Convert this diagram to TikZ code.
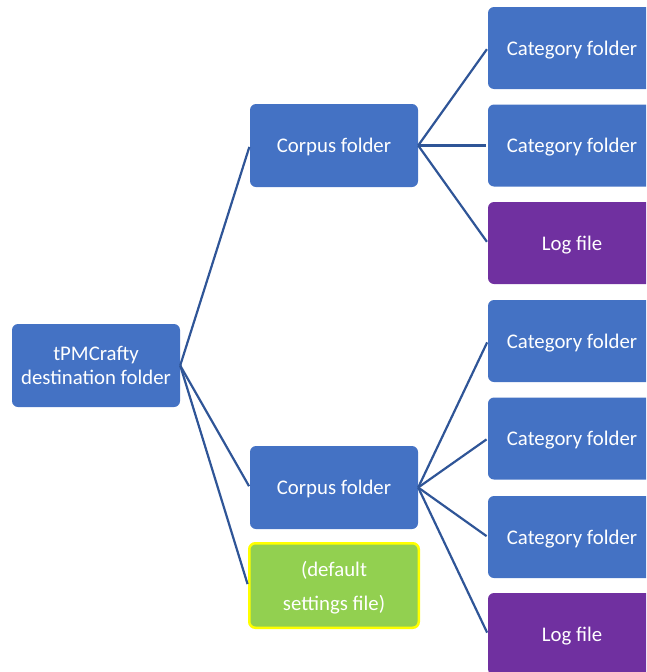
\documentclass[tikz,border=0pt]{standalone}
\usepackage{fontspec}
\setmainfont{Carlito}
\definecolor{boxblue}{RGB}{68,114,196}
\definecolor{boxpurple}{RGB}{112,48,160}
\definecolor{boxgreen}{RGB}{146,208,80}
\definecolor{boxyellow}{RGB}{255,255,0}
\definecolor{linkblue}{RGB}{47,85,151}
\tikzset{
  base/.style={rectangle, rounded corners=6pt, text=white, align=center,
    font=\fontsize{20.8}{24.5}\selectfont, inner sep=0pt, draw=none, text depth=0pt},
  bluebox/.style={base, fill=boxblue, minimum width=168pt, minimum height=83pt},
  catbox/.style={base, fill=boxblue, minimum width=168pt, minimum height=82pt},
  logbox/.style={base, fill=boxpurple, minimum width=168pt, minimum height=82pt},
  settingsbox/.style={base, fill=boxgreen, draw=boxyellow, line width=2.5pt,
    minimum width=169.5pt, minimum height=84.5pt, font=\fontsize{20.8}{34}\selectfont},
  link/.style={draw=linkblue, line width=2.2pt, shorten >=1.5pt}
}
\begin{document}
\begin{tikzpicture}[x=1pt,y=-1pt]
\useasboundingbox (0,0) rectangle (646,672);
\clip (0,0) rectangle (646,672);
\node[bluebox] (root) at (96,365.5) {tPMCrafty\\destination folder};
\node[bluebox] (c1) at (334,145.5) {Corpus folder};
\node[bluebox] (c2) at (334,487.5) {Corpus folder};
\node[settingsbox] (set) at (334,585.5) {(default\\settings file)};
\node[catbox] (k1) at (572,48) {Category folder};
\node[catbox] (k2) at (572,145.5) {Category folder};
\node[logbox] (l1) at (572,243) {Log file};
\node[catbox] (k3) at (572,341) {Category folder};
\node[catbox] (k4) at (572,438.5) {Category folder};
\node[catbox] (k5) at (572,537) {Category folder};
\node[logbox] (l2) at (572,634) {Log file};
\draw[link] (root.east) -- (c1.west);
\draw[link] (root.east) -- (c2.west);
\draw[link] (root.east) -- (set.west);
\draw[link] (c1.east) -- (k1.west);
\draw[link] (c1.east) -- (k2.west);
\draw[link] (c1.east) -- (l1.west);
\draw[link] (c2.east) -- (k3.west);
\draw[link] (c2.east) -- (k4.west);
\draw[link] (c2.east) -- (k5.west);
\draw[link] (c2.east) -- (l2.west);
\end{tikzpicture}
\end{document}
